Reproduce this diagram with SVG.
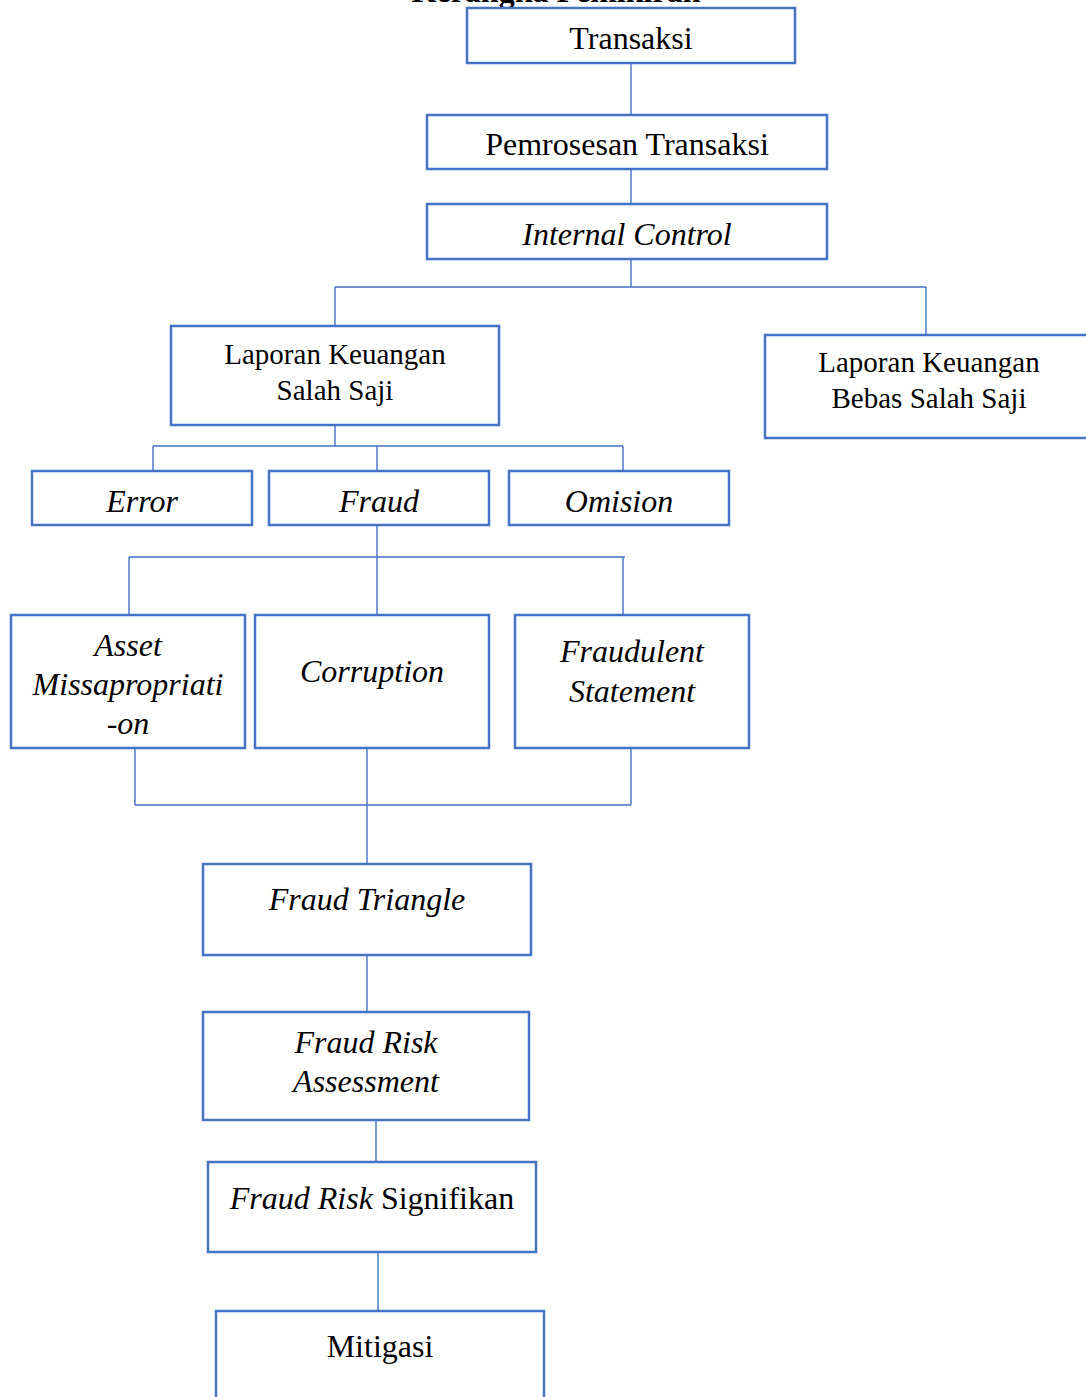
<svg xmlns="http://www.w3.org/2000/svg" width="1086" height="1397" viewBox="0 0 1086 1397">
<style>
.box{fill:#fff;stroke:#4472C4;stroke-width:2.5}
.ln{fill:none;stroke:#4472C4;stroke-width:1.4}
text{font-family:"Liberation Serif","Times New Roman",serif;font-size:32px;fill:#000;text-anchor:middle}
.i{font-style:italic}
.s{font-size:29px}
.title{font-weight:bold;font-size:32px}
</style>
<rect width="1086" height="1397" fill="#fff"/>
<text class="title" x="556" y="2">Kerangka Pemikiran</text>
<g id="connectors">
<path class="ln" d="M631 63V115M631 169V204M631 259V287M335 287H926M335 287V326M926 287V335"/>
<path class="ln" d="M335 425V446M153 446H623M153 446V471M377 446V471M623 446V471"/>
<path class="ln" d="M377 525V557M129 557H625M129 557V615M377 557V615M623 557V615"/>
<path class="ln" d="M135 748V805M631 748V805M135 805H631M367 748V864"/>
<path class="ln" d="M367 955V1012M376 1120V1162M378 1252V1311"/>
</g>
<g id="transaksi"><rect class="box" x="467" y="8" width="328" height="55"/><text x="631" y="49">Transaksi</text></g>
<g id="pemrosesan"><rect class="box" x="427" y="115" width="400" height="54"/><text x="627" y="155">Pemrosesan Transaksi</text></g>
<g id="internal-control"><rect class="box" x="427" y="204" width="400" height="55"/><text class="i" x="627" y="245">Internal Control</text></g>
<g id="salah-saji"><rect class="box" x="171" y="326" width="328" height="99"/><text class="s" x="335" y="364">Laporan Keuangan</text><text class="s" x="335" y="400">Salah Saji</text></g>
<g id="bebas-salah-saji"><rect class="box" x="765" y="335" width="330" height="103"/><text class="s" x="929" y="372">Laporan Keuangan</text><text class="s" x="929" y="408">Bebas Salah Saji</text></g>
<g id="error"><rect class="box" x="32" y="471" width="220" height="54"/><text class="i" x="142" y="512">Error</text></g>
<g id="fraud"><rect class="box" x="269" y="471" width="220" height="54"/><text class="i" x="379" y="512">Fraud</text></g>
<g id="omision"><rect class="box" x="509" y="471" width="220" height="54"/><text class="i" x="619" y="512">Omision</text></g>
<g id="asset"><rect class="box" x="11" y="615" width="234" height="133"/><text class="i" x="128" y="656">Asset</text><text class="i" x="128" y="695">Missapropriati</text><text class="i" x="128" y="734">-on</text></g>
<g id="corruption"><rect class="box" x="255" y="615" width="234" height="133"/><text class="i" x="372" y="682">Corruption</text></g>
<g id="fraudulent"><rect class="box" x="515" y="615" width="234" height="133"/><text class="i" x="632" y="662">Fraudulent</text><text class="i" x="632" y="702">Statement</text></g>
<g id="fraud-triangle"><rect class="box" x="203" y="864" width="328" height="91"/><text class="i" x="367" y="910">Fraud Triangle</text></g>
<g id="fraud-risk-assessment"><rect class="box" x="203" y="1012" width="326" height="108"/><text class="i" x="366" y="1053">Fraud Risk</text><text class="i" x="366" y="1092">Assessment</text></g>
<g id="fraud-risk-signifikan"><rect class="box" x="208" y="1162" width="328" height="90"/><text x="372" y="1209"><tspan font-style="italic">Fraud Risk</tspan> Signifikan</text></g>
<g id="mitigasi"><rect class="box" x="216" y="1311" width="328" height="100"/><text x="380" y="1357">Mitigasi</text></g>
</svg>
